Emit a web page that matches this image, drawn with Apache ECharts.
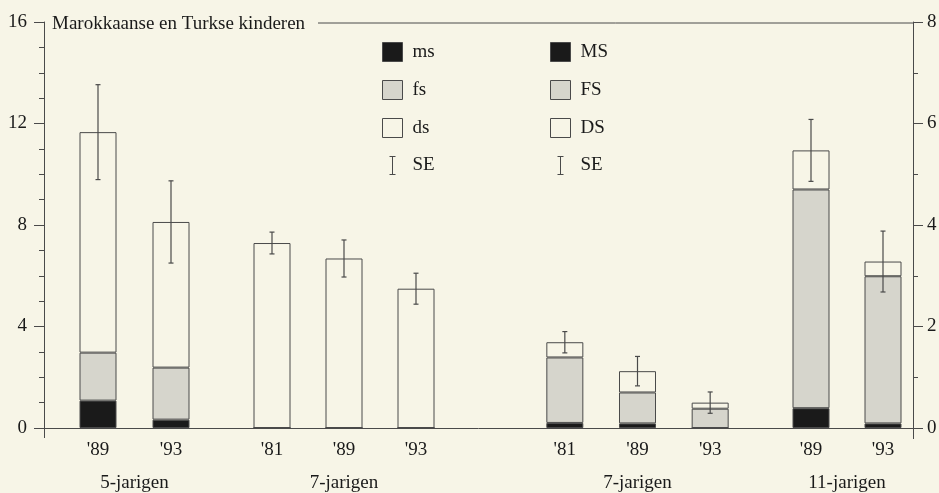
<!DOCTYPE html>
<html>
<head>
<meta charset="utf-8">
<script src="https://cdn.jsdelivr.net/npm/echarts@6/dist/echarts.min.js"></script>
<style>
  html, body { margin: 0; padding: 0; background: #f7f5e7; }
  #chart { width: 939px; height: 493px; }
</style>
</head>
<body>
<div id="chart"></div>
<script>
// 5-jarigen (left scale): ms / fs / ds per year, plus standard error of the total
const kid5Years = ["'89", "'93"];
const kid5Ms = [1.08, 0.33];
const kid5Fs = [1.89, 2.05];
const kid5Ds = [8.69, 5.74];
const kid5Se = [1.87, 1.62];

// 7-jarigen (left scale)
const kid7aYears = ["'81", "'89", "'93"];
const kid7aMs = [0, 0, 0];
const kid7aFs = [0, 0, 0];
const kid7aDs = [7.29, 6.68, 5.49];
const kid7aSe = [0.43, 0.73, 0.61];

// 7-jarigen (right scale): MS / FS / DS
const kid7bYears = ["'81", "'89", "'93"];
const kid7bMs = [0.10, 0.09, 0];
const kid7bFs = [1.29, 0.61, 0.38];
const kid7bDs = [0.30, 0.42, 0.12];
const kid7bSe = [0.21, 0.29, 0.21];

// 11-jarigen (right scale)
const kid11Years = ["'89", "'93"];
const kid11Ms = [0.39, 0.09];
const kid11Fs = [4.31, 2.90];
const kid11Ds = [0.77, 0.29];
const kid11Se = [0.61, 0.60];

const groupNames = ['5-jarigen', '7-jarigen', '7-jarigen', '11-jarigen'];
const leftScale = { min: 0, max: 16, interval: 4 };
const rightScale = { min: 0, max: 8, interval: 2 };
const lowerNames = ['ms', 'fs', 'ds'];
const upperNames = ['MS', 'FS', 'DS'];

// ---- styling / layout ----
const BG = '#f7f5e7';
const INK = '#1a1a1a';
const EDGE = '#4a4a4a';
const GREY = '#d6d5cc';
const FONT = 'Liberation Serif';
const FS = 19;

const plot = { left: 44, right: 26, top: 22, bottom: 65 };
const boxes = [
  { left: 61.5, width: 146 },
  { left: 236, width: 216 },
  { left: 528.5, width: 218 },
  { left: 775, width: 144 }
];

const panels = [
  { years: kid5Years, parts: [kid5Ms, kid5Fs, kid5Ds], se: kid5Se, names: lowerNames, scale: leftScale },
  { years: kid7aYears, parts: [kid7aMs, kid7aFs, kid7aDs], se: kid7aSe, names: lowerNames, scale: leftScale },
  { years: kid7bYears, parts: [kid7bMs, kid7bFs, kid7bDs], se: kid7bSe, names: upperNames, scale: rightScale },
  { years: kid11Years, parts: [kid11Ms, kid11Fs, kid11Ds], se: kid11Se, names: upperNames, scale: rightScale }
];

const partFill = [INK, GREY, BG];

const grids = [{
  left: plot.left, right: plot.right, top: plot.top, bottom: plot.bottom,
  containLabel: false, outerBoundsMode: 'none'
}];
const xAxes = [{
  gridIndex: 0, type: 'value', min: 0, max: 1,
  axisLine: { show: true, lineStyle: { color: EDGE, width: 1 } },
  axisTick: { show: false }, axisLabel: { show: false }, splitLine: { show: false }
}];
const yAxes = [
  {
    gridIndex: 0, type: 'value', position: 'left', ...leftScale,
    axisLine: { show: true, lineStyle: { color: EDGE, width: 1 } },
    axisTick: { show: true, inside: false, length: 10, lineStyle: { color: EDGE } },
    minorTick: { show: true, splitNumber: 4, length: 5, lineStyle: { color: EDGE } },
    splitLine: { show: false },
    axisLabel: { margin: 17, fontSize: FS, fontFamily: FONT, color: INK }
  },
  {
    gridIndex: 0, type: 'value', position: 'right', ...rightScale,
    axisLine: { show: true, lineStyle: { color: EDGE, width: 1 } },
    axisTick: { show: true, inside: false, length: 10, lineStyle: { color: EDGE } },
    minorTick: { show: true, splitNumber: 2, length: 5, lineStyle: { color: EDGE } },
    splitLine: { show: false },
    axisLabel: { margin: 14, fontSize: FS, fontFamily: FONT, color: INK }
  }
];
const series = [];

panels.forEach((p, i) => {
  const g = i + 1;
  grids.push({
    left: boxes[i].left, width: boxes[i].width, top: plot.top, bottom: plot.bottom,
    containLabel: false, outerBoundsMode: 'none'
  });
  xAxes.push({
    gridIndex: g, type: 'category', data: p.years,
    axisLine: { show: false }, axisTick: { show: false }, splitLine: { show: false },
    axisLabel: { margin: 13, fontSize: FS, fontFamily: FONT, color: INK },
    name: groupNames[i], nameLocation: 'middle', nameGap: 46,
    nameTextStyle: { fontSize: FS, fontFamily: FONT, color: INK }
  });
  yAxes.push({ gridIndex: g, type: 'value', ...p.scale, show: false });

  p.parts.forEach((vals, k) => {
    series.push({
      type: 'bar', name: p.names[k], stack: 'grp' + i,
      xAxisIndex: g, yAxisIndex: g + 1, barWidth: 37,
      itemStyle: { color: partFill[k], borderColor: EDGE, borderWidth: 1 },
      emphasis: { disabled: true },
      data: vals
    });
  });

  const errData = p.years.map((_, j) => {
    const total = p.parts.reduce((s, arr) => s + arr[j], 0);
    return [j, total, p.se[j]];
  });
  series.push({
    type: 'custom', name: 'SE', xAxisIndex: g, yAxisIndex: g + 1, z: 5,
    itemStyle: { color: EDGE },
    encode: { x: 0, y: 1 },
    data: errData,
    renderItem: function (params, api) {
      const x = api.value(0), y = api.value(1), e = api.value(2);
      const hi = api.coord([x, y + e]);
      const lo = api.coord([x, y - e]);
      const cap = 2.5;
      const st = { stroke: EDGE, lineWidth: 1.2 };
      return {
        type: 'group',
        children: [
          { type: 'line', shape: { x1: hi[0], y1: hi[1], x2: lo[0], y2: lo[1] }, style: st },
          { type: 'line', shape: { x1: hi[0] - cap, y1: hi[1], x2: hi[0] + cap, y2: hi[1] }, style: st },
          { type: 'line', shape: { x1: lo[0] - cap, y1: lo[1], x2: lo[0] + cap, y2: lo[1] }, style: st }
        ]
      };
    }
  });
});

const seIcon = 'path://M0,0H6V1H3.5V18H6V19H0V18H2.5V1H0Z';
function legendItems(names) {
  return [
    { name: names[0], icon: 'rect', itemStyle: { color: INK, borderColor: EDGE, borderWidth: 1 } },
    { name: names[1], icon: 'rect', itemStyle: { color: GREY, borderColor: EDGE, borderWidth: 1 } },
    { name: names[2], icon: 'rect', itemStyle: { color: BG, borderColor: EDGE, borderWidth: 1 } },
    { name: 'SE', icon: seIcon, itemStyle: { color: EDGE, borderWidth: 0 } }
  ];
}
const legendBase = {
  orient: 'vertical', top: 37, itemWidth: 20, itemHeight: 19, itemGap: 18,
  selectedMode: false,
  textStyle: { fontSize: FS, fontFamily: FONT, color: INK, padding: [0, 0, 0, 5] }
};

const chart = echarts.init(document.getElementById('chart'), null, { renderer: 'canvas' });
chart.setOption({
  backgroundColor: BG,
  animation: false,
  grid: grids,
  xAxis: xAxes,
  yAxis: yAxes,
  legend: [
    { ...legendBase, left: 377, data: legendItems(lowerNames) },
    { ...legendBase, left: 545, data: legendItems(upperNames) }
  ],
  graphic: [
    { type: 'text', left: 52, top: 15, style: { text: 'Marokkaanse en Turkse kinderen', fontSize: FS, fontFamily: FONT, fill: INK } },
    { type: 'line', shape: { x1: 318, y1: 23, x2: 913, y2: 23 }, style: { stroke: EDGE, lineWidth: 1 } },
    { type: 'line', shape: { x1: 44.5, y1: 428, x2: 44.5, y2: 438 }, style: { stroke: EDGE, lineWidth: 1 } },
    { type: 'line', shape: { x1: 913.5, y1: 428, x2: 913.5, y2: 439 }, style: { stroke: EDGE, lineWidth: 1 } }
  ],
  series: series
});
</script>
</body>
</html>
